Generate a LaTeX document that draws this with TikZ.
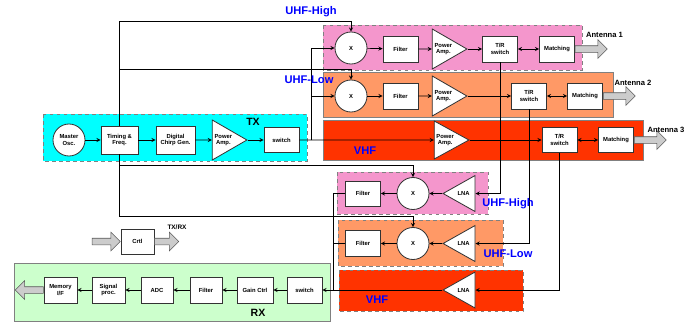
\documentclass[tikz,border=0pt]{standalone}
\usepackage{fontspec}
\setmainfont{Liberation Sans}
\usetikzlibrary{shapes.geometric, shapes.arrows, positioning}

\definecolor{uhfhigh}{RGB}{244,150,204}
\definecolor{uhflow}{RGB}{255,153,102}
\definecolor{vhfband}{RGB}{255,51,0}
\definecolor{txband}{RGB}{0,255,255}
\definecolor{rxband}{RGB}{204,255,204}

\tikzset{
  blk/.style={draw=black!80, fill=white, line width=0.7pt, align=center,
    font=\fontsize{5}{5.5}\selectfont\bfseries, inner sep=0.5pt,
    minimum width=1.05cm, minimum height=0.78cm},
  mixer/.style={circle, draw=black!80, fill=white, line width=0.7pt, align=center,
    font=\fontsize{5}{5.5}\selectfont\bfseries, inner sep=0pt, minimum size=0.96cm},
  amp/.style={isosceles triangle, isosceles triangle stretches, draw=black!80,
    fill=white, line width=0.7pt, align=center,
    font=\fontsize{5}{5.5}\selectfont\bfseries, inner sep=0pt,
    minimum height=1.04cm, minimum width=1.2cm},
  lna/.style={amp, shape border rotate=180, minimum height=0.96cm, minimum width=1.08cm},
  zone/.style={draw=gray, line width=0.6pt},
  bandlabel/.style={text=blue, font=\fontsize{9.5}{10}\selectfont\bfseries},
  antlabel/.style={font=\fontsize{6.5}{7}\selectfont\bfseries},
  antarr/.style={single arrow, draw=gray!70!black, fill=gray!40, line width=0.5pt,
    inner sep=0.09cm, minimum width=0.54cm, single arrow head extend=0.18cm,
    minimum height=0.96cm},
  wire/.style={line width=0.6pt}
}

\begin{document}
\begin{tikzpicture}[>=stealth, x=0.03cm, y=-0.03cm]
\useasboundingbox (0,0) rectangle (688,322);

% ---------------- band backgrounds ----------------
\draw[zone, dashed, fill=txband] (43,114) rectangle (307,161);
\draw[zone, dashed, fill=uhfhigh] (323,25) rectangle (582,70);
\draw[zone, fill=uhflow] (323,72) rectangle (613,117);
\draw[zone, fill=vhfband] (323,120) rectangle (643,160);
\draw[zone, dashed, fill=uhfhigh] (337,172) rectangle (488,214);
\draw[zone, dashed, fill=uhflow] (338,220) rectangle (503,266);
\draw[zone, dashed, fill=vhfband] (339,270) rectangle (523,311);
\draw[zone, fill=rxband] (14,263) rectangle (330,321);

% ---------------- TX chain ----------------
\node[mixer] (mosc) at (69,140) {Master\\Osc.};
\node[blk, minimum width=1.11cm, minimum height=0.84cm] (timing) at (119.5,140) {Timing \&\\Freq.};
\node[blk, minimum width=1.17cm, minimum height=0.84cm] (chirp) at (175.5,140) {Digital\\Chirp Gen.};
\node[amp, anchor=apex] (txpa) at (248,140) {Power\\Amp.};
\node[blk, minimum height=0.75cm] (txsw) at (281.5,140) {switch};

% ---------------- UHF-High TX ----------------
\node[mixer] (hmix) at (351,48) {X};
\node[blk] (hfil) at (400.5,49) {Filter};
\node[amp, anchor=apex] (hpa) at (468,49) {Power\\Amp.};
\node[blk] (htr) at (500,49) {T/R\\switch};
\node[blk] (hmat) at (557,49) {Matching};
\node[antarr, anchor=tail] (ant1) at (hmat.east) {};

% ---------------- UHF-Low TX ----------------
\node[mixer] (lmix) at (351,96) {X};
\node[blk] (lfil) at (400.5,96) {Filter};
\node[amp, anchor=apex] (lpa) at (468,96) {Power\\Amp.};
\node[blk] (ltr) at (529,96) {T/R\\switch};
\node[blk] (lmat) at (585,96) {Matching};
\node[antarr, anchor=tail] (ant2) at (lmat.east) {};

% ---------------- VHF TX ----------------
\node[amp, anchor=apex, minimum width=1.14cm] (vpa) at (470,140) {Power\\Amp.};
\node[blk, minimum height=0.75cm] (vtr) at (559.5,140) {T/R\\switch};
\node[blk, minimum height=0.75cm] (vmat) at (616,140) {Matching};
\node[antarr, anchor=tail] (ant3) at (vmat.east) {};

% ---------------- RX front ends ----------------
\node[blk, minimum height=0.75cm] (rhfil) at (363,193.5) {Filter};
\node[mixer] (rhmix) at (413,193.5) {X};
\node[lna, anchor=apex] (rhlna) at (442,193.5) {LNA};

\node[blk, minimum height=0.8cm] (rlfil) at (363,243.5) {Filter};
\node[mixer] (rlmix) at (413,243.5) {X};
\node[lna, anchor=apex] (rllna) at (442,243.5) {LNA};

\node[lna, anchor=apex] (rvlna) at (442,290) {LNA};

% ---------------- RX chain ----------------
\node[blk] (rxsw) at (304.5,290) {switch};
\node[blk, minimum width=1.08cm] (gain) at (255,290) {Gain Ctrl};
\node[blk, minimum width=0.96cm] (rfil) at (206,290) {Filter};
\node[blk, minimum width=0.96cm] (adc) at (157,290) {ADC};
\node[blk, minimum width=0.99cm] (sigproc) at (108.5,290) {Signal\\proc.};
\node[blk, minimum width=0.99cm] (mem) at (60.5,290) {Memory\\I/F};
\node[antarr, anchor=tail, shape border rotate=180, minimum height=0.84cm] (memout) at (mem.west) {};

% ---------------- control ----------------
\node[blk, minimum width=0.99cm, minimum height=0.75cm] (crtl) at (137.5,241.5) {Crtl};
\node[antarr, anchor=tip, minimum height=0.84cm] (crtlin) at (crtl.west) {};
\node[antarr, anchor=tail, minimum height=0.72cm] (crtlout) at (crtl.east) {};

% ---------------- wiring ----------------
\coordinate (txbr) at (311,140);
\coordinate (lohigh) at (351,21);
\coordinate (lolow) at (351,69);
\coordinate (rxlohigh) at (413,165);
\coordinate (rxlolow) at (413,216);
\coordinate (rxjoin) at (333,290);

\draw[wire, ->] (mosc) -- (timing);
\draw[wire, ->] (timing) -- (chirp);
\draw[wire, ->] (chirp) -- (txpa.west);
\draw[wire, ->] (txpa.apex) -- (txsw);
\draw[wire, ->] (txsw) -- (vpa.west);
\draw[wire, ->] (txbr) |- (hmix);
\draw[wire, ->] (txbr) |- (lmix);

\draw[wire, ->] (timing.north) |- (lohigh) -- (hmix.north);
\draw[wire, ->] (timing.north |- lolow) -- (lolow) -- (lmix.north);
\draw[wire, ->] (timing.south) |- (rxlolow) -- (rlmix.north);
\draw[wire, ->] (timing.south |- rxlohigh) -- (rxlohigh) -- (rhmix.north);

\draw[wire, ->] (hmix) -- (hfil);
\draw[wire, ->] (hfil) -- (hpa.west);
\draw[wire, ->] (hpa.apex) -- (htr);
\draw[wire, <->] (htr) -- (hmat);

\draw[wire, ->] (lmix) -- (lfil);
\draw[wire, ->] (lfil) -- (lpa.west);
\draw[wire, ->] (lpa.apex) -- (ltr);
\draw[wire, <->] (ltr) -- (lmat);

\draw[wire, ->] (vpa.apex) -- (vtr);
\draw[wire, <->] (vtr) -- (vmat);

\draw[wire, ->] (htr.south) |- (rhlna.east);
\draw[wire, ->] (ltr.south) |- (rllna.east);
\draw[wire, ->] (vtr.south) |- (rvlna.east);

\draw[wire, ->] (rhlna.apex) -- (rhmix);
\draw[wire, ->] (rhmix) -- (rhfil);
\draw[wire, ->] (rllna.apex) -- (rlmix);
\draw[wire, ->] (rlmix) -- (rlfil);
\draw[wire] (rhfil.west) -| (rxjoin);
\draw[wire] (rlfil.west) -- (rlfil.west -| rxjoin);
\draw[wire, ->] (rvlna.apex) -- (rxsw);

\draw[wire, ->] (rxsw) -- (gain);
\draw[wire, ->] (gain) -- (rfil);
\draw[wire, ->] (rfil) -- (adc);
\draw[wire, ->] (adc) -- (sigproc);
\draw[wire, ->] (sigproc) -- (mem);

% ---------------- labels ----------------
\node[font=\fontsize{9}{10}\selectfont\bfseries] (txlabel) at (253,122) {TX};
\node[font=\fontsize{9}{10}\selectfont\bfseries] (rxlabel) at (258,313) {RX};
\node[bandlabel] (uhfhightx) at (311,12) {UHF-High};
\node[bandlabel] (uhflowtx) at (309,80) {UHF-Low};
\node[bandlabel] (vhftx) at (365,151) {VHF};
\node[bandlabel] (uhfhighrx) at (508,204) {UHF-High};
\node[bandlabel] (uhflowrx) at (508,254) {UHF-Low};
\node[bandlabel] (vhfrx) at (377,300) {VHF};
\node[antlabel] (ant1label) at (604.5,35) {Antenna 1};
\node[antlabel] (ant2label) at (633,83) {Antenna 2};
\node[antlabel] (ant3label) at (666,130) {Antenna 3};
\node[antlabel, font=\fontsize{5.5}{6}\selectfont\bfseries] (txrxlabel) at (177,227) {TX/RX};

\end{tikzpicture}
\end{document}
